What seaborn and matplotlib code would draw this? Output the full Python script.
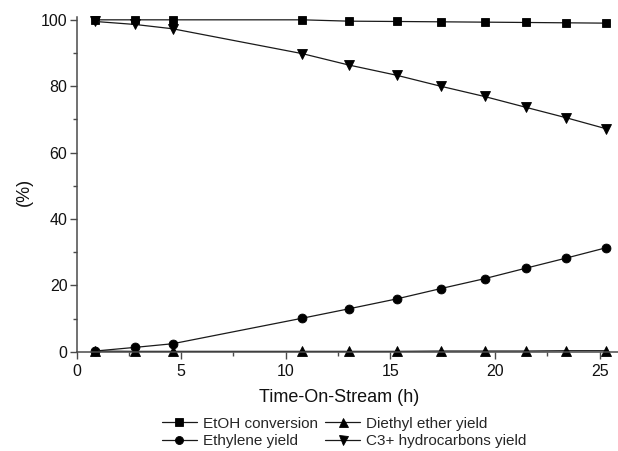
import matplotlib
matplotlib.use("Agg")
import matplotlib.pyplot as plt
from matplotlib.ticker import MultipleLocator
import seaborn as sns
import pandas as pd

# Time-on-stream (h) and measured conversion / yields (%)
time_h = [0.9, 2.8, 4.6, 10.8, 13.0, 15.3, 17.4, 19.5, 21.5, 23.4, 25.3]
etoh_conversion = [100.0, 100.0, 100.0, 100.0, 99.6, 99.5, 99.4, 99.3, 99.2, 99.1, 99.0]
ethylene_yield = [0.2, 1.3, 2.4, 10.1, 12.9, 15.9, 19.0, 22.0, 25.2, 28.2, 31.3]
diethyl_ether_yield = [0.2, 0.1, 0.1, 0.1, 0.1, 0.1, 0.2, 0.2, 0.2, 0.3, 0.3]
c3_yield = [99.5, 98.6, 97.3, 89.8, 86.4, 83.3, 80.0, 76.9, 73.6, 70.5, 67.2]

series_names = ["EtOH conversion", "Ethylene yield", "Diethyl ether yield",
                "C3+ hydrocarbons yield"]
series_values = [etoh_conversion, ethylene_yield, diethyl_ether_yield, c3_yield]
series_markers = ["s", "o", "^", "v"]
series_msizes = [6.2, 6.4, 7.2, 7.2]

df = pd.concat(
    [pd.DataFrame({"time": time_h, "value": v, "series": n})
     for n, v in zip(series_names, series_values)],
    ignore_index=True,
)

sns.set_style("ticks")
plt.rcParams["font.family"] = ["Liberation Sans", "DejaVu Sans"]

fig = plt.figure(figsize=(6.18, 4.51), dpi=100)
ax = fig.add_axes([0.1238, 0.2202, 0.8762, 0.7432])

handles = []
for name, marker, ms in zip(series_names, series_markers, series_msizes):
    sub = df[df["series"] == name]
    sns.lineplot(data=sub, x="time", y="value", ax=ax, color="#1a1a1a",
                 linewidth=0.9, marker=marker, markersize=ms,
                 markeredgecolor="black", markerfacecolor="black",
                 markeredgewidth=0.6, clip_on=False, label=name, legend=False)
    handles.append(ax.lines[-1])

ax.set_xlim(0, 25.88)
ax.set_ylim(0, 101)
ax.xaxis.set_major_locator(MultipleLocator(5))
ax.xaxis.set_minor_locator(MultipleLocator(2.5))
ax.yaxis.set_major_locator(MultipleLocator(20))
ax.yaxis.set_minor_locator(MultipleLocator(10))

spine_color = "#4a4a4a"
for side in ("top", "right"):
    ax.spines[side].set_visible(False)
for side in ("left", "bottom"):
    ax.spines[side].set_color(spine_color)
    ax.spines[side].set_linewidth(1.1)

ax.tick_params(axis="both", which="major", direction="out", length=5,
               width=1.0, color=spine_color, labelsize=11.5,
               labelcolor="#111111")
ax.tick_params(axis="both", which="minor", direction="out", length=3,
               width=1.0, color=spine_color)
ax.tick_params(axis="y", which="major", pad=1.5)
ax.tick_params(axis="x", which="major", pad=4)

ax.set_xlabel("Time-On-Stream (h)", fontsize=13, color="#111111")
ax.set_ylabel("(%)", fontsize=13, color="#111111")
ax.xaxis.set_label_coords(0.485, -0.11)
ax.yaxis.set_label_coords(-0.08, 0.478)

fig.legend(handles=handles, labels=series_names, ncol=2, frameon=False,
           loc="upper left", bbox_to_anchor=(0.262, 0.076),
           bbox_transform=fig.transFigure, fontsize=11, borderpad=0,
           borderaxespad=0, handlelength=2.3, handletextpad=0.4,
           columnspacing=0.45, labelspacing=0.22, markerscale=0.9)

fig.savefig("out.png", dpi=100)
